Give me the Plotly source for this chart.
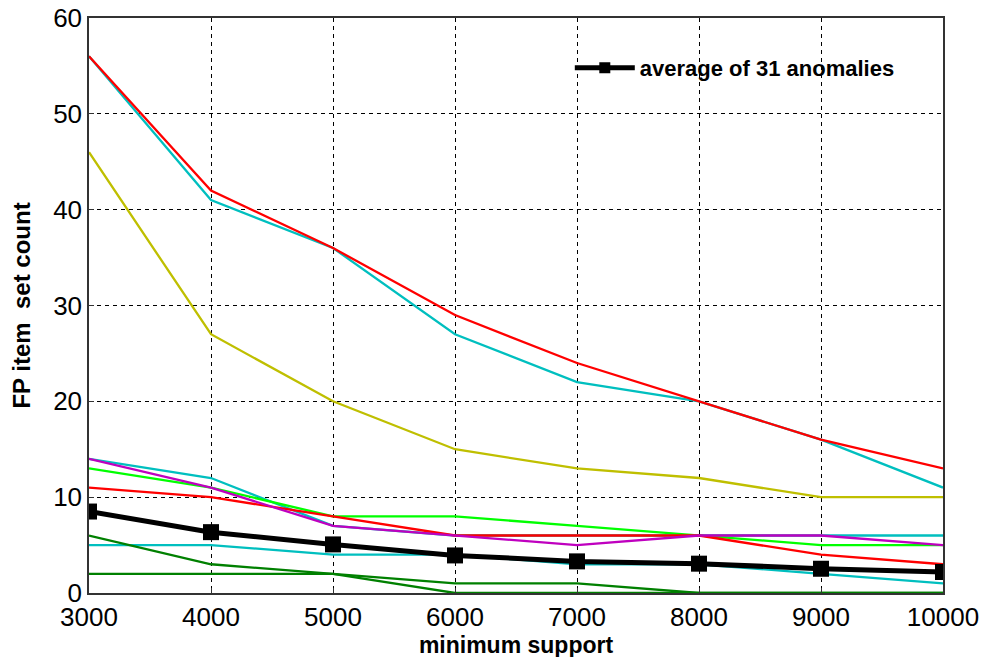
import plotly.graph_objects as go

min_support = [3000, 4000, 5000, 6000, 7000, 8000, 9000, 10000]

# individual anomalies (FP item set counts)
cyan_top = [56, 41, 36, 27, 22, 20, 16, 11]
red_top = [56, 42, 36, 29, 24, 20, 16, 13]
olive = [46, 27, 20, 15, 13, 12, 10, 10]
cyan_mid = [14, 12, 7, 6, 6, 6, 6, 6]
lime = [13, 11, 8, 8, 7, 6, 5, 5]
red_mid = [11, 10, 8, 6, 6, 6, 4, 3]
magenta = [14, 11, 7, 6, 5, 6, 6, 5]
cyan_low = [5, 5, 4, 4, 3, 3, 2, 1]
dgreen_a = [6, 3, 2, 1, 1, 0, 0, 0]
dgreen_b = [2, 2, 2, 0, 0, 0, 0, 0]
average = [8.5, 6.35, 5.07, 3.92, 3.3, 3.06, 2.53, 2.19]

x_ticks = [3000, 4000, 5000, 6000, 7000, 8000, 9000, 10000]
y_ticks = [0, 10, 20, 30, 40, 50, 60]

C_RED = "#ff0000"
C_CYAN = "#00bfbf"
C_OLIVE = "#bfbf00"
C_MAG = "#bf00bf"
C_LIME = "#00ff00"
C_DG = "#008000"

series = [
    (cyan_top, C_CYAN),
    (red_top, C_RED),
    (olive, C_OLIVE),
    (cyan_mid, C_CYAN),
    (cyan_low, C_CYAN),
    (lime, C_LIME),
    (red_mid, C_RED),
    (magenta, C_MAG),
    (dgreen_a, C_DG),
    (dgreen_b, C_DG),
]

fig = go.Figure()
for vals, col in series:
    fig.add_trace(go.Scatter(x=min_support, y=vals, mode="lines",
                             line=dict(color=col, width=2.3),
                             showlegend=False, hoverinfo="skip"))

fig.add_trace(go.Scatter(x=min_support, y=average, mode="lines+markers",
                         name="average of 31 anomalies",
                         line=dict(color="black", width=5),
                         marker=dict(symbol="square", size=16, color="black"),
                         showlegend=False))
# legend entry (smaller marker, as in the reference legend)
fig.add_trace(go.Scatter(x=[None], y=[None], mode="lines+markers",
                         name="average of 31 anomalies",
                         line=dict(color="black", width=5),
                         marker=dict(symbol="square", size=11, color="black"),
                         showlegend=True))

fig.update_layout(
    width=998, height=657,
    margin=dict(l=81, r=63, t=10, b=72, autoexpand=False),
    paper_bgcolor="white", plot_bgcolor="white",
    font=dict(family="Liberation Sans, Arial, sans-serif", color="black"),
    showlegend=True,
    legend=dict(x=0.563, y=0.913, xanchor="left", yanchor="middle",
                bgcolor="rgba(255,255,255,0)", borderwidth=0,
                font=dict(size=22, family="Liberation Sans, Arial, sans-serif",
                          color="black", weight="bold"),
                itemwidth=60),
)
fig.update_xaxes(
    range=[3000, 10000], tickvals=x_ticks, ticktext=[str(v) for v in x_ticks],
    tickfont=dict(size=26), showgrid=True, gridcolor="black", gridwidth=1,
    griddash="4px,4px", showline=True, linecolor="#333333", linewidth=1.5,
    mirror=True, ticks="inside", ticklen=5, tickcolor="#333333",
    zeroline=False, automargin=False, ticklabeloverflow="allow",
    title=dict(text="<b>minimum support</b>", font=dict(size=23), standoff=2),
)
fig.update_yaxes(
    range=[0, 60], tickvals=y_ticks, tickfont=dict(size=26),
    showgrid=True, gridcolor="black", gridwidth=1, griddash="4px,4px",
    showline=True, linecolor="#333333", linewidth=1.5, mirror=True,
    ticks="inside", ticklen=5, tickcolor="#333333", zeroline=False,
    automargin=False, ticklabeloverflow="allow",
    title=dict(text="<b>FP item  set count</b>", font=dict(size=24), standoff=16),
)

fig.write_html("out.html")
